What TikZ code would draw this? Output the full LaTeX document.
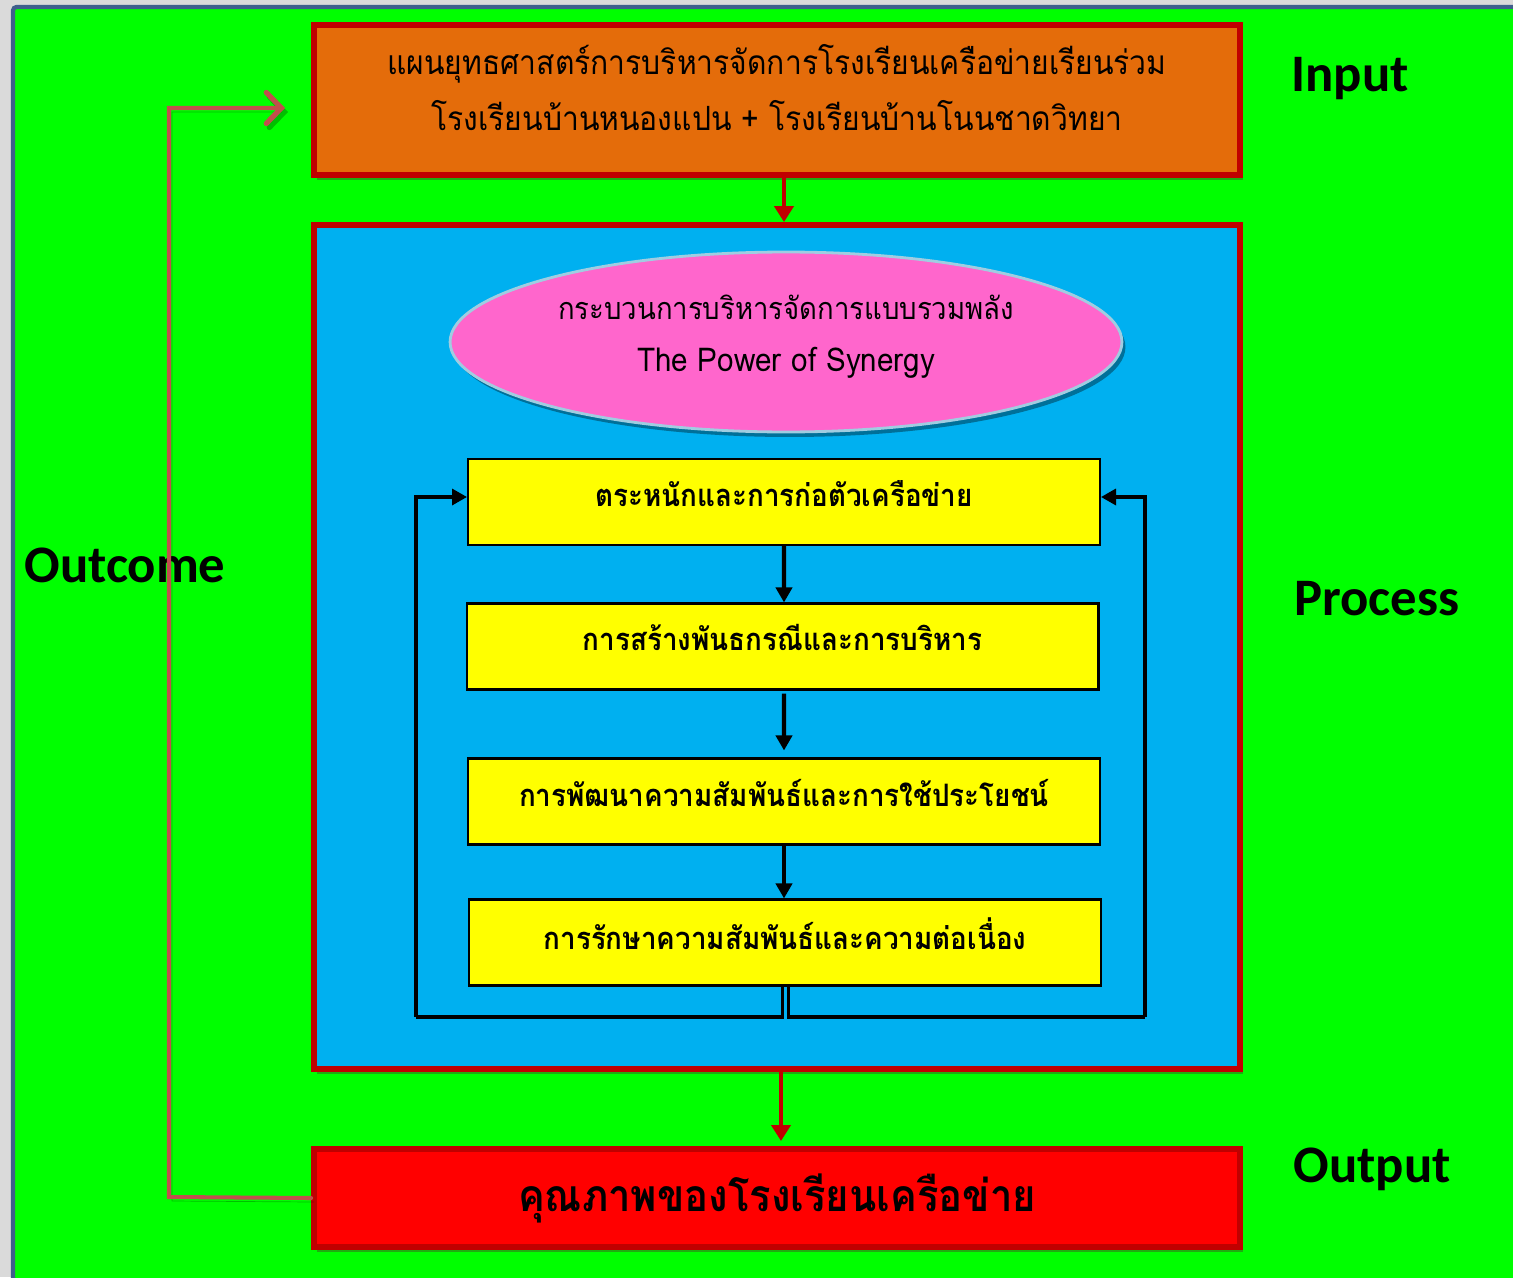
\documentclass[tikz,border=0pt]{standalone}
\usepackage{fontspec}
\newfontfamily\thaifont[Script=Thai, FakeStretch=0.9]{Loma}
\newfontfamily\labelfont{Carlito}
\usetikzlibrary{shapes.geometric, arrows.meta, shadows}

\definecolor{bggray}{RGB}{218,218,218}
\definecolor{panelgreen}{RGB}{0,255,0}
\definecolor{frameblue}{RGB}{63,95,140}
\definecolor{inputorange}{RGB}{228,108,10}
\definecolor{darkred}{RGB}{192,0,0}
\definecolor{processblue}{RGB}{0,176,240}
\definecolor{synergypink}{RGB}{255,102,204}
\definecolor{rimblue}{RGB}{160,205,225}
\definecolor{stepyellow}{RGB}{255,255,0}
\definecolor{outcomered}{RGB}{192,80,77}
\definecolor{greenshade}{RGB}{40,150,20}

\begin{document}
\begin{tikzpicture}[x=0.02cm, y=-0.02cm,
    mainbox/.style={draw=darkred, line width=3.4pt, minimum width=18.52cm, inner sep=0pt,
        drop shadow={shadow xshift=0.06cm, shadow yshift=-0.1cm, fill=greenshade, opacity=0.8}},
    stepbox/.style={draw=black, line width=1.2pt, fill=stepyellow, minimum width=12.64cm,
        minimum height=1.72cm, inner sep=0pt, font=\thaifont\bfseries\fontsize{17.6}{21}\selectfont},
    redarrow/.style={draw=darkred, line width=2.3pt, -{Triangle[length=0.32cm, width=0.38cm]}},
    steparrow/.style={line width=2.3pt, -{Triangle[length=0.3cm, width=0.32cm]}},
    loopline/.style={line width=1.9pt},
    looparrow/.style={line width=1.9pt, -{Triangle[length=0.3cm, width=0.32cm]}},
    tagtext/.style={font=\labelfont\bfseries\fontsize{30}{34}\selectfont}]

    \useasboundingbox (0,0) rectangle (1513,1277);

    % background and green panel
    \fill[bggray] (0,0) rectangle (1513,1277);
    \draw[frameblue, line width=2.4pt, fill=panelgreen, rounded corners=2pt]
        (13,7) rectangle (1530,1290);

    % Input
    \node[mainbox, fill=inputorange, minimum height=3.0cm, text depth=0.5cm,
        align=center, font=\thaifont\fontsize{19}{32}\selectfont] (input) at (777,100)
        {แผนยุทธศาสตร์การบริหารจัดการโรงเรียนเครือข่ายเรียนร่วม\\
         โรงเรียนบ้านหนองแปน + โรงเรียนบ้านโนนชาดวิทยา};

    % Process
    \node[mainbox, fill=processblue, minimum height=16.88cm] (process) at (777,647) {};

    % the ellipse
    \node[ellipse, draw=rimblue, line width=1.6pt, fill=synergypink,
        minimum width=13.44cm, minimum height=3.6cm, align=center, text depth=0.35cm,
        font=\thaifont\fontsize{17.4}{30}\selectfont,
        drop shadow={shadow xshift=0.07cm, shadow yshift=-0.1cm, fill=black!45!processblue, opacity=0.8}]
        (synergy) at (786,342)
        {กระบวนการบริหารจัดการแบบรวมพลัง\\ {\fontsize{18.7}{30}\selectfont The Power of Synergy}};

    % the four steps
    \node[stepbox, text depth=0.36cm] (p1) at (784,502) {ตระหนักและการก่อตัวเครือข่าย};
    \node[stepbox, text depth=0.36cm] (p2) at (782.5,646.5) {การสร้างพันธกรณีและการบริหาร};
    \node[stepbox, text depth=0.36cm] (p3) at (784,801.5) {การพัฒนาความสัมพันธ์และการใช้ประโยชน์};
    \node[stepbox, text depth=0.36cm] (p4) at (785,942.5) {การรักษาความสัมพันธ์และความต่อเนื่อง};

    % Output
    \node[mainbox, fill=red, minimum height=1.96cm,
        font=\thaifont\bfseries\fontsize{25.3}{30}\selectfont] (output) at (777,1198)
        {คุณภาพของโรงเรียนเครือข่าย};

    % labels
    \node[tagtext] (inlabel) at (1350,79) {Input};
    \node[tagtext] (proclabel) at (1377,599) {Process};
    \node[tagtext] (outlabel) at (1372,1169) {Output};
    \node[tagtext] (outcomelabel) at (125,565) {Outcome};

    % arrows in the main column
    \draw[redarrow] ([xshift=0.14cm]input.south) -- ([xshift=0.14cm]process.north);
    \draw[redarrow, shorten >=0.1cm] ([xshift=0.08cm]process.south) -- ([xshift=0.08cm]output.north);
    \draw[steparrow] (p1.south) -- ([xshift=0.03cm]p2.north);
    \draw[steparrow] ([yshift=-0.06cm, xshift=0.03cm]p2.south) -- ([yshift=0.14cm]p3.north);
    \draw[steparrow] (p3.south) -- ([xshift=-0.02cm]p4.north);

    % feedback loops round the steps
    \coordinate (loopL) at (416,1017);
    \coordinate (loopR) at (1145,1017);
    \draw[loopline] ([xshift=-0.05cm]p4.south) |- (loopL);
    \draw[looparrow] (loopL) |- ([yshift=0.1cm]p1.west);
    \draw[loopline] ([xshift=0.07cm]p4.south) |- (loopR);
    \draw[looparrow] (loopR) |- ([yshift=0.1cm]p1.east);

    % Outcome back to Input
    \coordinate (outcomeL) at (169,1197);
    \coordinate (outcomeT) at (169,108);
    \coordinate (outcomeEnd) at (285,108);
    \draw[outcomered, line width=2.3pt, line cap=round,
        -{Straight Barb[length=0.3cm, width=0.62cm, line width=3pt, line cap=round]},
        preaction={draw=black, opacity=0.25, transform canvas={shift={(0.06cm,-0.08cm)}}}]
        (output.west) -- (outcomeL) -- (outcomeT) -- (outcomeEnd);
\end{tikzpicture}
\end{document}
